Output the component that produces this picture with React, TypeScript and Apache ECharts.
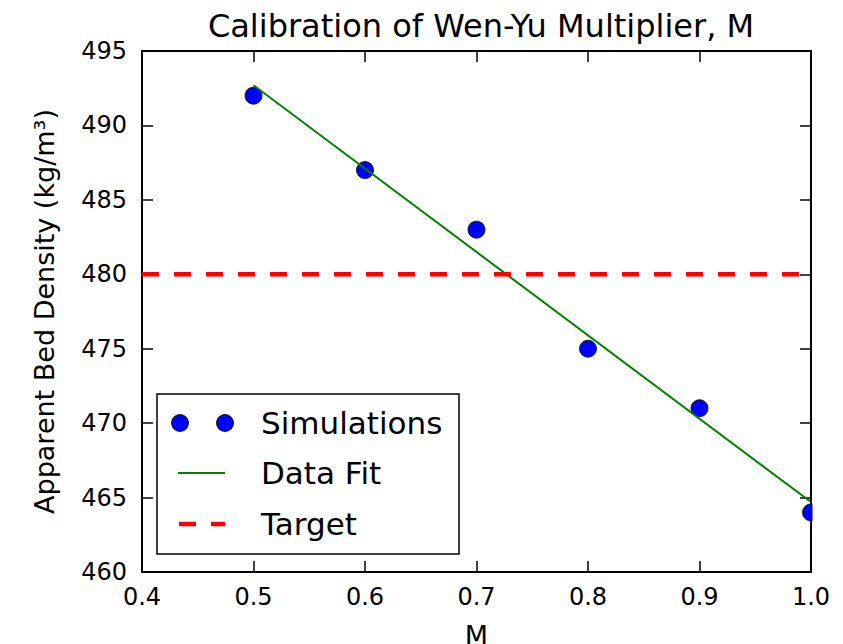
import React, { useEffect, useRef } from "react";
import * as echarts from "echarts";

const titleText = "Calibration of Wen-Yu Multiplier, M";
const xAxisName = "M";
const yAxisName = "Apparent Bed Density (kg/m³)";
const simX = [0.5, 0.6, 0.7, 0.8, 0.9, 1.0];
const simY = [492, 487, 483, 475, 471, 464];
const fitX = [0.5, 1.0];
const fitY = [492.7, 464.7];
const targetValue = 480;
const xRange = [0.4, 1.0];
const yRange = [460, 495];
const legendLabels = ["Simulations", "Data Fit", "Target"];

const FONT = "DejaVu Sans";

export default function App() {
  const ref = useRef<HTMLDivElement>(null);
  useEffect(() => {
    if (!ref.current) return;
    const chart = echarts.init(ref.current, null, { renderer: "svg" });
    const axisLine = { show: true, lineStyle: { color: "#000", width: 2 } };
    const tick = { show: true, inside: true, length: 11, lineStyle: { color: "#000", width: 1.5 } };
    const lx = 157, ly = 394, lw = 302, lh = 160;
    const rows = [423, 473, 524];
    chart.setOption({
      animation: false,
      backgroundColor: "#fff",
      textStyle: { fontFamily: FONT },
      title: {
        text: titleText,
        left: 476,
        textAlign: "center",
        top: 5,
        textStyle: { fontFamily: FONT, fontSize: 32, fontWeight: "normal", color: "#000" },
      },
      grid: { left: 142, right: 32, top: 51, bottom: 72, containLabel: false, outerBoundsMode: "none" },
      xAxis: [
        {
          type: "value",
          min: xRange[0],
          max: xRange[1],
          interval: 0.1,
          position: "bottom",
          name: xAxisName,
          nameLocation: "middle",
          nameGap: 50,
          nameTextStyle: { fontFamily: FONT, fontSize: 27, color: "#000" },
          axisLine,
          axisTick: tick,
          splitLine: { show: false },
          axisLabel: {
            fontFamily: FONT,
            fontSize: 24,
            color: "#000",
            margin: 13,
            formatter: (v: number) => v.toFixed(1),
          },
        },
        {
          type: "value",
          min: xRange[0],
          max: xRange[1],
          interval: 0.1,
          position: "top",
          axisLine,
          axisTick: tick,
          splitLine: { show: false },
          axisLabel: { show: false },
        },
      ],
      yAxis: [
        {
          type: "value",
          min: yRange[0],
          max: yRange[1],
          interval: 5,
          position: "left",
          name: yAxisName,
          nameLocation: "middle",
          nameGap: 84,
          nameTextStyle: { fontFamily: FONT, fontSize: 27, color: "#000" },
          axisLine,
          axisTick: tick,
          splitLine: { show: false },
          axisLabel: { fontFamily: FONT, fontSize: 24, color: "#000", margin: 15 },
        },
        {
          type: "value",
          min: yRange[0],
          max: yRange[1],
          interval: 5,
          position: "right",
          axisLine,
          axisTick: tick,
          splitLine: { show: false },
          axisLabel: { show: false },
        },
      ],
      series: [
        {
          name: legendLabels[0],
          type: "scatter",
          data: simX.map((x, i) => [x, simY[i]]),
          symbol: "circle",
          symbolSize: 17,
          itemStyle: { color: "#0000ff", borderColor: "#000", borderWidth: 0.8, opacity: 1 },
          z: 3,
        },
        {
          name: legendLabels[1],
          type: "line",
          data: fitX.map((x, i) => [x, fitY[i]]),
          symbol: "none",
          lineStyle: { color: "#008000", width: 2 },
          z: 4,
        },
        {
          name: legendLabels[2],
          type: "line",
          data: [
            [xRange[0], targetValue],
            [xRange[1], targetValue],
          ],
          symbol: "none",
          lineStyle: { color: "#ff0000", width: 4.5, type: [17, 15] },
          z: 5,
        },
      ],
      graphic: [
        { type: "rect", shape: { x: 812.5, y: 40, width: 40, height: 540 }, style: { fill: "#fff" }, z: 50 },
        {
          type: "rect",
          shape: { x: lx, y: ly, width: lw, height: lh },
          style: { fill: "#fff", stroke: "#000", lineWidth: 1.5 },
          z: 60,
        },
        { type: "circle", shape: { cx: 180, cy: rows[0], r: 8.5 }, style: { fill: "#0000ff", stroke: "#000", lineWidth: 0.8 }, z: 61 },
        { type: "circle", shape: { cx: 225, cy: rows[0], r: 8.5 }, style: { fill: "#0000ff", stroke: "#000", lineWidth: 0.8 }, z: 61 },
        { type: "line", shape: { x1: 178, y1: rows[1], x2: 225, y2: rows[1] }, style: { stroke: "#008000", lineWidth: 2 }, z: 61 },
        {
          type: "line",
          shape: { x1: 179, y1: rows[2], x2: 225, y2: rows[2] },
          style: { stroke: "#ff0000", lineWidth: 4.5, lineDash: [17, 15] },
          z: 61,
        },
        ...legendLabels.map((t, i) => ({
          type: "text",
          x: 261,
          y: rows[i],
          style: { text: t, fontFamily: FONT, fontSize: 31, fill: "#000", textVerticalAlign: "middle", verticalAlign: "middle" },
          z: 61,
        })),
      ],
    });
    return () => chart.dispose();
  }, []);
  return <div ref={ref} style={{ position: "fixed", left: 0, top: 0, width: 843, height: 644 }} />;
}
